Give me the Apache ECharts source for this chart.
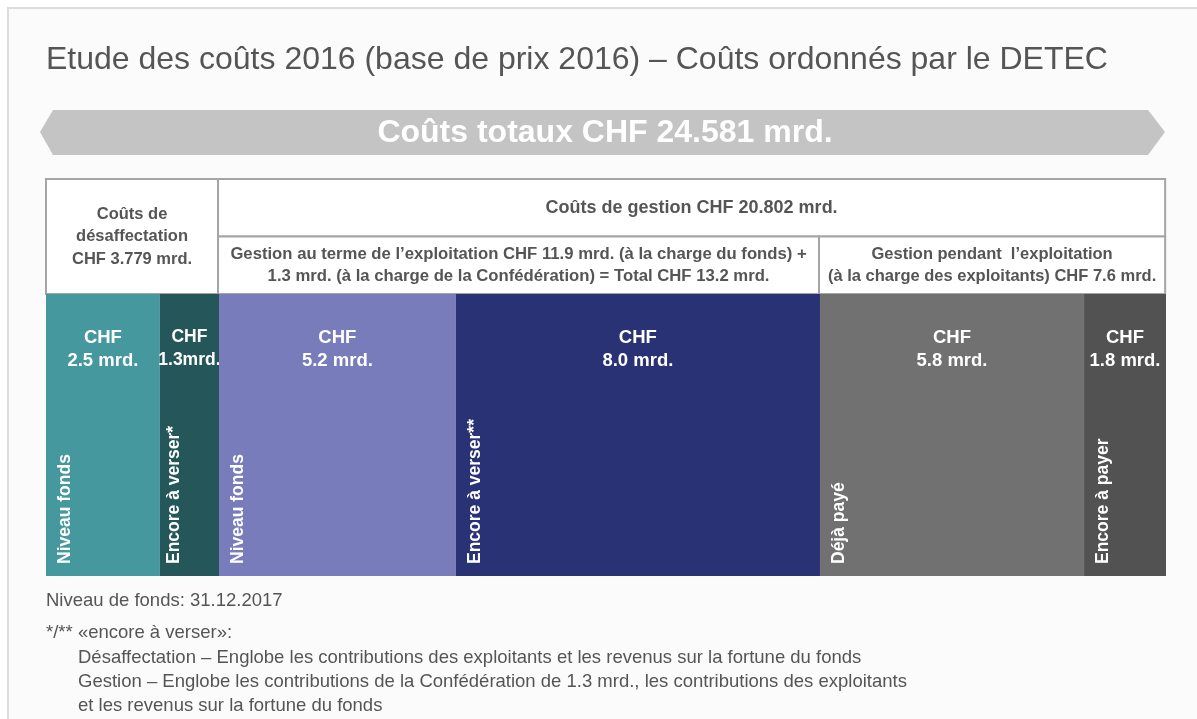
<!DOCTYPE html>
<html>
<head>
<meta charset="utf-8">
<title>Etude des coûts 2016</title>
<script src="https://cdn.jsdelivr.net/npm/echarts@6/dist/echarts.min.js"></script>
<style>
html, body { margin: 0; padding: 0; background: #fff; }
#chart { width: 1197px; height: 719px; }
</style>
</head>
<body>
<div id="chart"></div>
<script>
// bottom bar segments (CHF mrd.)
var segNames = ['Niveau fonds', 'Encore à verser*', 'Niveau fonds', 'Encore à verser**', 'Déjà payé', 'Encore à payer'];
var segValues = [2.5, 1.3, 5.2, 8.0, 5.8, 1.8];
var segColors = ['#45989e', '#25575a', '#797cba', '#283275', '#717171', '#525252'];

// header figures (CHF mrd.)
var totalCost = 24.581;
var desaffCost = 3.779;
var gestionCost = 20.802;
var gestionFinCost = 13.2;
var gestionPendantCost = 7.6;

var titleText = 'Etude des coûts 2016 (base de prix 2016) – Coûts ordonnés par le DETEC';
var footNotes = [
    'Désaffectation – Englobe les contributions des exploitants et les revenus sur la fortune du fonds',
    'Gestion – Englobe les contributions de la Confédération de 1.3 mrd., les contributions des exploitants',
    'et les revenus sur la fortune du fonds'
];

var FONT = '"Liberation Sans", Arial, sans-serif';
var TXT = '#555555';

var segTotal = segValues.reduce(function (a, b) { return a + b; }, 0);

// [start, end, rowTop, rowBottom]
var headerCells = [
    [0, desaffCost, 0, 2],
    [desaffCost, desaffCost + gestionCost, 0, 1],
    [desaffCost, desaffCost + gestionFinCost, 1, 2],
    [desaffCost + gestionFinCost, desaffCost + gestionCost, 1, 2]
];
var headerTexts = [
    'Coûts de\ndésaffectation\nCHF ' + desaffCost.toFixed(3) + ' mrd.',
    'Coûts de gestion CHF ' + gestionCost.toFixed(3) + ' mrd.',
    'Gestion au terme de l’exploitation CHF 11.9 mrd. (à la charge du fonds) +\n1.3 mrd. (à la charge de la Confédération) = Total CHF ' + gestionFinCost.toFixed(1) + ' mrd.',
    'Gestion pendant  l’exploitation\n(à la charge des exploitants) CHF ' + gestionPendantCost.toFixed(1) + ' mrd.'
];
var headerFontSize = [16.5, 18, 16.7, 16.5];

var segData = [];
var acc = 0;
segValues.forEach(function (v, i) {
    segData.push([acc, acc + v, v, i]);
    acc += v;
});

var chart = echarts.init(document.getElementById('chart'), null, { renderer: 'canvas' });

var option = {
    animation: false,
    backgroundColor: '#fff',
    title: {
        text: titleText,
        left: 41,
        top: 39,
        textStyle: { fontFamily: FONT, fontSize: 32, fontWeight: 'normal', color: TXT }
    },
    grid: [
        { left: 46, right: 31, top: 179, height: 115 },
        { left: 46, right: 31, top: 294, height: 282 }
    ],
    xAxis: [
        { gridIndex: 0, type: 'value', min: 0, max: segTotal, show: false },
        { gridIndex: 1, type: 'value', min: 0, max: segTotal, show: false }
    ],
    yAxis: [
        { gridIndex: 0, type: 'value', min: 0, max: 2, inverse: true, show: false },
        { gridIndex: 1, type: 'value', min: 0, max: 1, show: false }
    ],
    graphic: [
        {
            type: 'rect', z: -10, silent: true,
            shape: { x: 8, y: 8, width: 1300, height: 800 },
            style: { fill: '#fbfbfb', stroke: '#dcdcdc', lineWidth: 2 }
        },
        {
            type: 'polygon', z: 5,
            shape: { points: [[40, 132], [53, 110], [1148, 110], [1165, 132], [1148, 155], [53, 155]] },
            style: { fill: '#c4c4c4' }
        },
        {
            type: 'text', z: 6, x: 605, y: 133,
            style: {
                text: 'Coûts totaux CHF ' + totalCost.toFixed(3) + ' mrd.',
                align: 'center', verticalAlign: 'middle',
                fill: '#fff', font: 'bold 32px ' + FONT
            }
        },
        {
            type: 'text', z: 6, x: 46, y: 601,
            style: { text: 'Niveau de fonds: 31.12.2017', verticalAlign: 'middle', fill: TXT, font: '18.5px ' + FONT }
        },
        {
            type: 'text', z: 6, x: 46, y: 633,
            style: { text: '*/** «encore à verser»:', verticalAlign: 'middle', fill: TXT, font: '18.5px ' + FONT }
        },
        {
            type: 'text', z: 6, x: 78, y: 658,
            style: { text: footNotes.join('\n'), verticalAlign: 'top', y: -12, lineHeight: 24, fill: TXT, font: '18.5px ' + FONT }
        }
    ],
    series: [
        {
            type: 'custom',
            xAxisIndex: 0,
            yAxisIndex: 0,
            data: headerCells,
            renderItem: function (params, api) {
                var p0 = api.coord([api.value(0), api.value(2)]);
                var p1 = api.coord([api.value(1), api.value(3)]);
                return {
                    type: 'group',
                    children: [
                        {
                            type: 'rect',
                            shape: { x: p0[0], y: p0[1], width: p1[0] - p0[0], height: p1[1] - p0[1] },
                            style: { fill: '#fff', stroke: '#a5a5a5', lineWidth: 2 }
                        },
                        {
                            type: 'text',
                            x: (p0[0] + p1[0]) / 2,
                            y: (p0[1] + p1[1]) / 2,
                            style: {
                                text: headerTexts[params.dataIndex],
                                align: 'center', verticalAlign: 'middle',
                                lineHeight: 22.5,
                                fill: TXT, font: 'bold ' + headerFontSize[params.dataIndex] + 'px ' + FONT
                            }
                        }
                    ]
                };
            }
        },
        {
            type: 'custom',
            xAxisIndex: 1,
            yAxisIndex: 1,
            data: segData,
            renderItem: function (params, api) {
                var p0 = api.coord([api.value(0), 1]);
                var p1 = api.coord([api.value(1), 0]);
                var idx = api.value(3);
                var w = p1[0] - p0[0];
                var narrow = w < 70;
                var amount = api.value(2).toFixed(1) + (narrow ? 'mrd.' : ' mrd.');
                return {
                    type: 'group',
                    children: [
                        {
                            type: 'rect',
                            shape: { x: p0[0], y: p0[1], width: w, height: p1[1] - p0[1] },
                            style: { fill: segColors[idx] }
                        },
                        {
                            type: 'text',
                            x: p0[0] + w / 2,
                            y: p0[1] + 32,
                            style: {
                                text: 'CHF\n' + amount,
                                align: 'center', verticalAlign: 'top',
                                lineHeight: 23,
                                fill: '#fff', font: 'bold ' + (narrow ? 17.5 : 18.5) + 'px ' + FONT
                            }
                        },
                        {
                            type: 'text',
                            x: p0[0] + Math.min(19, w * 0.24),
                            y: p1[1] - 12,
                            rotation: Math.PI / 2,
                            style: {
                                text: segNames[idx],
                                align: 'left', verticalAlign: 'middle',
                                fill: '#fff', font: 'bold 17.5px ' + FONT
                            }
                        }
                    ]
                };
            }
        }
    ]
};

chart.setOption(option);
</script>
</body>
</html>
